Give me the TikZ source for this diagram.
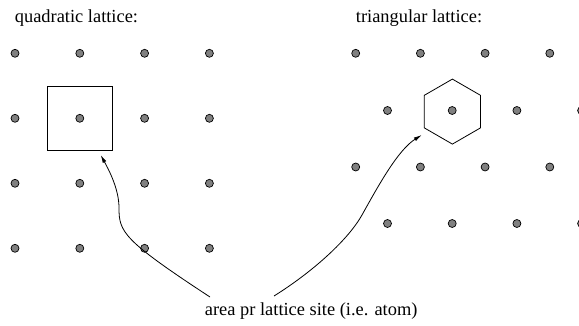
\documentclass[tikz,border=0pt]{standalone}
\usepackage{fontspec}
\setmainfont{Liberation Serif}
\usetikzlibrary{shapes.geometric,arrows.meta}
\tikzset{
  site/.style={circle,draw=black,fill=black!50,line width=0.7pt,minimum size=8pt,inner sep=0pt},
  cell/.style={draw=black,line width=0.8pt,inner sep=0pt},
  title/.style={anchor=base west,inner sep=0pt,font=\fontsize{18.4}{22}\selectfont},
  caption/.style={anchor=base,inner sep=0pt,font=\fontsize{18.4}{22}\selectfont},
  pointer/.style={line width=0.8pt,-{Latex[length=8pt,width=4pt]}}
}
\begin{document}
\begin{tikzpicture}[x=1pt,y=-1pt]
\useasboundingbox (0,0) rectangle (579,326);
\clip (0,0) rectangle (579,326);
% titles
\node[title] (tq) at (14.7,22.7) {quadratic lattice:};
\node[title] (tt) at (355.7,22.7) {triangular lattice:};
% quadratic lattice
\foreach \i in {0,...,3}{
  \foreach \j in {0,...,3}{
    \node[site] (q-\i-\j) at ({15+64.8*\i},{53.3+65*\j}) {};
  }
}
% triangular lattice
\foreach \i in {0,...,3}{
  \node[site] (ta-\i) at ({355.7+64.7*\i},53.3) {};
  \node[site] (tb-\i) at ({387.5+64.7*\i},110.5) {};
  \node[site] (tc-\i) at ({355.7+64.7*\i},167) {};
  \node[site] (td-\i) at ({387.5+64.7*\i},223.5) {};
}
% unit cells
\node[cell,rectangle,minimum size=64.5pt] (sq) at (q-1-1) {};
\node[cell,regular polygon,regular polygon sides=6,shape border rotate=30,minimum size=65pt] (hex) at (452.4,111.6) {};
% caption
\node[caption] (lbl) at (311.2,315) {area pr lattice site (i.e. atom)};
\coordinate (sl) at (210,297);
\coordinate (sr) at (274,296);
\coordinate (el) at (100.7,155);
\coordinate (er) at (421.7,135);
% pointers
\draw[pointer] (sl) .. controls (123,240) and (119,232) .. (119,208)
  .. controls (119,190) and (110,172) .. (el);
\draw[pointer] (sr) .. controls (314,271) and (348.6,239) .. (362,215)
  .. controls (378.7,185) and (398,150) .. (er);
\end{tikzpicture}
\end{document}
